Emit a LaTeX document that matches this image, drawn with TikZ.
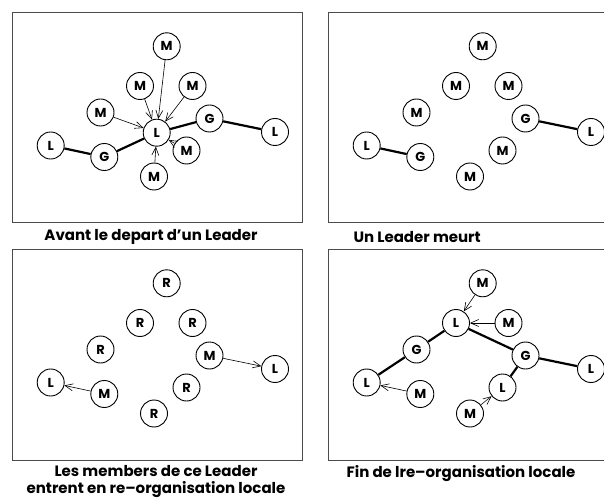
\documentclass[tikz,border=0pt]{standalone}
\usepackage{fontspec}
\setmainfont{Poppins}
\usetikzlibrary{arrows.meta}
\tikzset{%
    Dnode/.style={shape=circle,draw,line width=0.9pt,minimum size=27pt,inner sep=0pt,
        font=\bfseries\fontsize{13}{13}\selectfont},
    Dlink/.style={line width=2.2pt},
    Darrow/.style={line width=0.6pt,-{Straight Barb[length=8pt,width=7pt]}},
    Dframe/.style={draw=black!70,line width=0.8pt},
    Dcaption/.style={font=\bfseries\fontsize{15}{16.5}\selectfont,align=center}
}
\newcommand{\Dgrid}{%
    \path
        (154.7,34.3) coordinate (Nt)
        (128,74) coordinate (Nul)
        (180.5,74) coordinate (Nur)
        (88.5,100.5) coordinate (Nl)
        (197.5,106.5) coordinate (Ngr)
        (263,120) coordinate (Nlr)
        (38.7,133.5) coordinate (Nll)
        (92.3,145) coordinate (Ngl)
        (174.5,138.5) coordinate (Nmr)
        (142,164.5) coordinate (Nb)
        (144.7,120.7) coordinate (Nc);}

\begin{document}
\begin{tikzpicture}[x=1pt,y=-1pt]
    \useasboundingbox (0,0) rectangle (604,502);
    % frames
    \draw[Dframe] (12,12) rectangle (302,222.5);
    \draw[Dframe] (328,12) rectangle (607,222.5);
    \draw[Dframe] (12,249) rectangle (302,460);
    \draw[Dframe] (328,249) rectangle (607,460);

    % before the leader leaves
    \begin{scope}[shift={(12,12)}]
        \Dgrid
        \foreach \c/\t in {Nt/M,Nul/M,Nur/M,Nl/M,Ngr/G,Nlr/L,Nll/L,Ngl/G,Nmr/M,Nb/M,Nc/L}
            \node[Dnode] (A\c) at (\c) {\t};
        \draw[Dlink] (ANll)--(ANgl)--(ANc)--(ANgr)--(ANlr);
        \foreach \c in {Nt,Nul,Nur,Nl,Nmr,Nb}
            \draw[Darrow] (A\c)--(ANc);
    \end{scope}

    % the leader is gone
    \begin{scope}[shift={(328,12)}]
        \Dgrid
        \foreach \c/\t in {Nt/M,Nul/M,Nur/M,Nl/M,Ngr/G,Nlr/L,Nll/L,Ngl/G,Nmr/M,Nb/M}
            \node[Dnode] (B\c) at (\c) {\t};
        \draw[Dlink] (BNll)--(BNgl);
        \draw[Dlink] (BNgr)--(BNlr);
    \end{scope}

    % members re-organise
    \begin{scope}[shift={(12,249)}]
        \Dgrid
        \foreach \c/\t in {Nt/R,Nul/R,Nur/R,Nl/R,Ngr/M,Nlr/L,Nll/L,Ngl/M,Nmr/R,Nb/R}
            \node[Dnode] (C\c) at (\c) {\t};
        \draw[Darrow] (CNgr)--(CNlr);
        \draw[Darrow] (CNgl)--(CNll);
    \end{scope}

    % after re-organisation
    \begin{scope}[shift={(328,249)}]
        \Dgrid
        \foreach \c/\t in {Nt/M,Nul/L,Nur/M,Nl/G,Ngr/G,Nlr/L,Nll/L,Ngl/M,Nmr/L,Nb/M}
            \node[Dnode] (D\c) at (\c) {\t};
        \draw[Dlink] (DNll)--(DNl)--(DNul)--(DNgr)--(DNlr);
        \draw[Dlink] (DNgr)--(DNmr);
        \draw[Darrow] (DNt)--(DNul);
        \draw[Darrow] (DNur)--(DNul);
        \draw[Darrow] (DNgl)--(DNll);
        \draw[Darrow] (DNb)--(DNmr);
    \end{scope}

    % captions
    \node[Dcaption] (Cap1) at (151,237) {Avant le depart d’un Leader};
    \node[Dcaption,anchor=west] (Cap2) at (350,237) {Un Leader meurt};
    \node[Dcaption] (Cap3) at (156,481.5) {Les members de ce Leader\\entrent en re–organisation locale};
    \node[Dcaption] (Cap4) at (461,474) {Fin de lre–organisation locale};
\end{tikzpicture}
\end{document}
